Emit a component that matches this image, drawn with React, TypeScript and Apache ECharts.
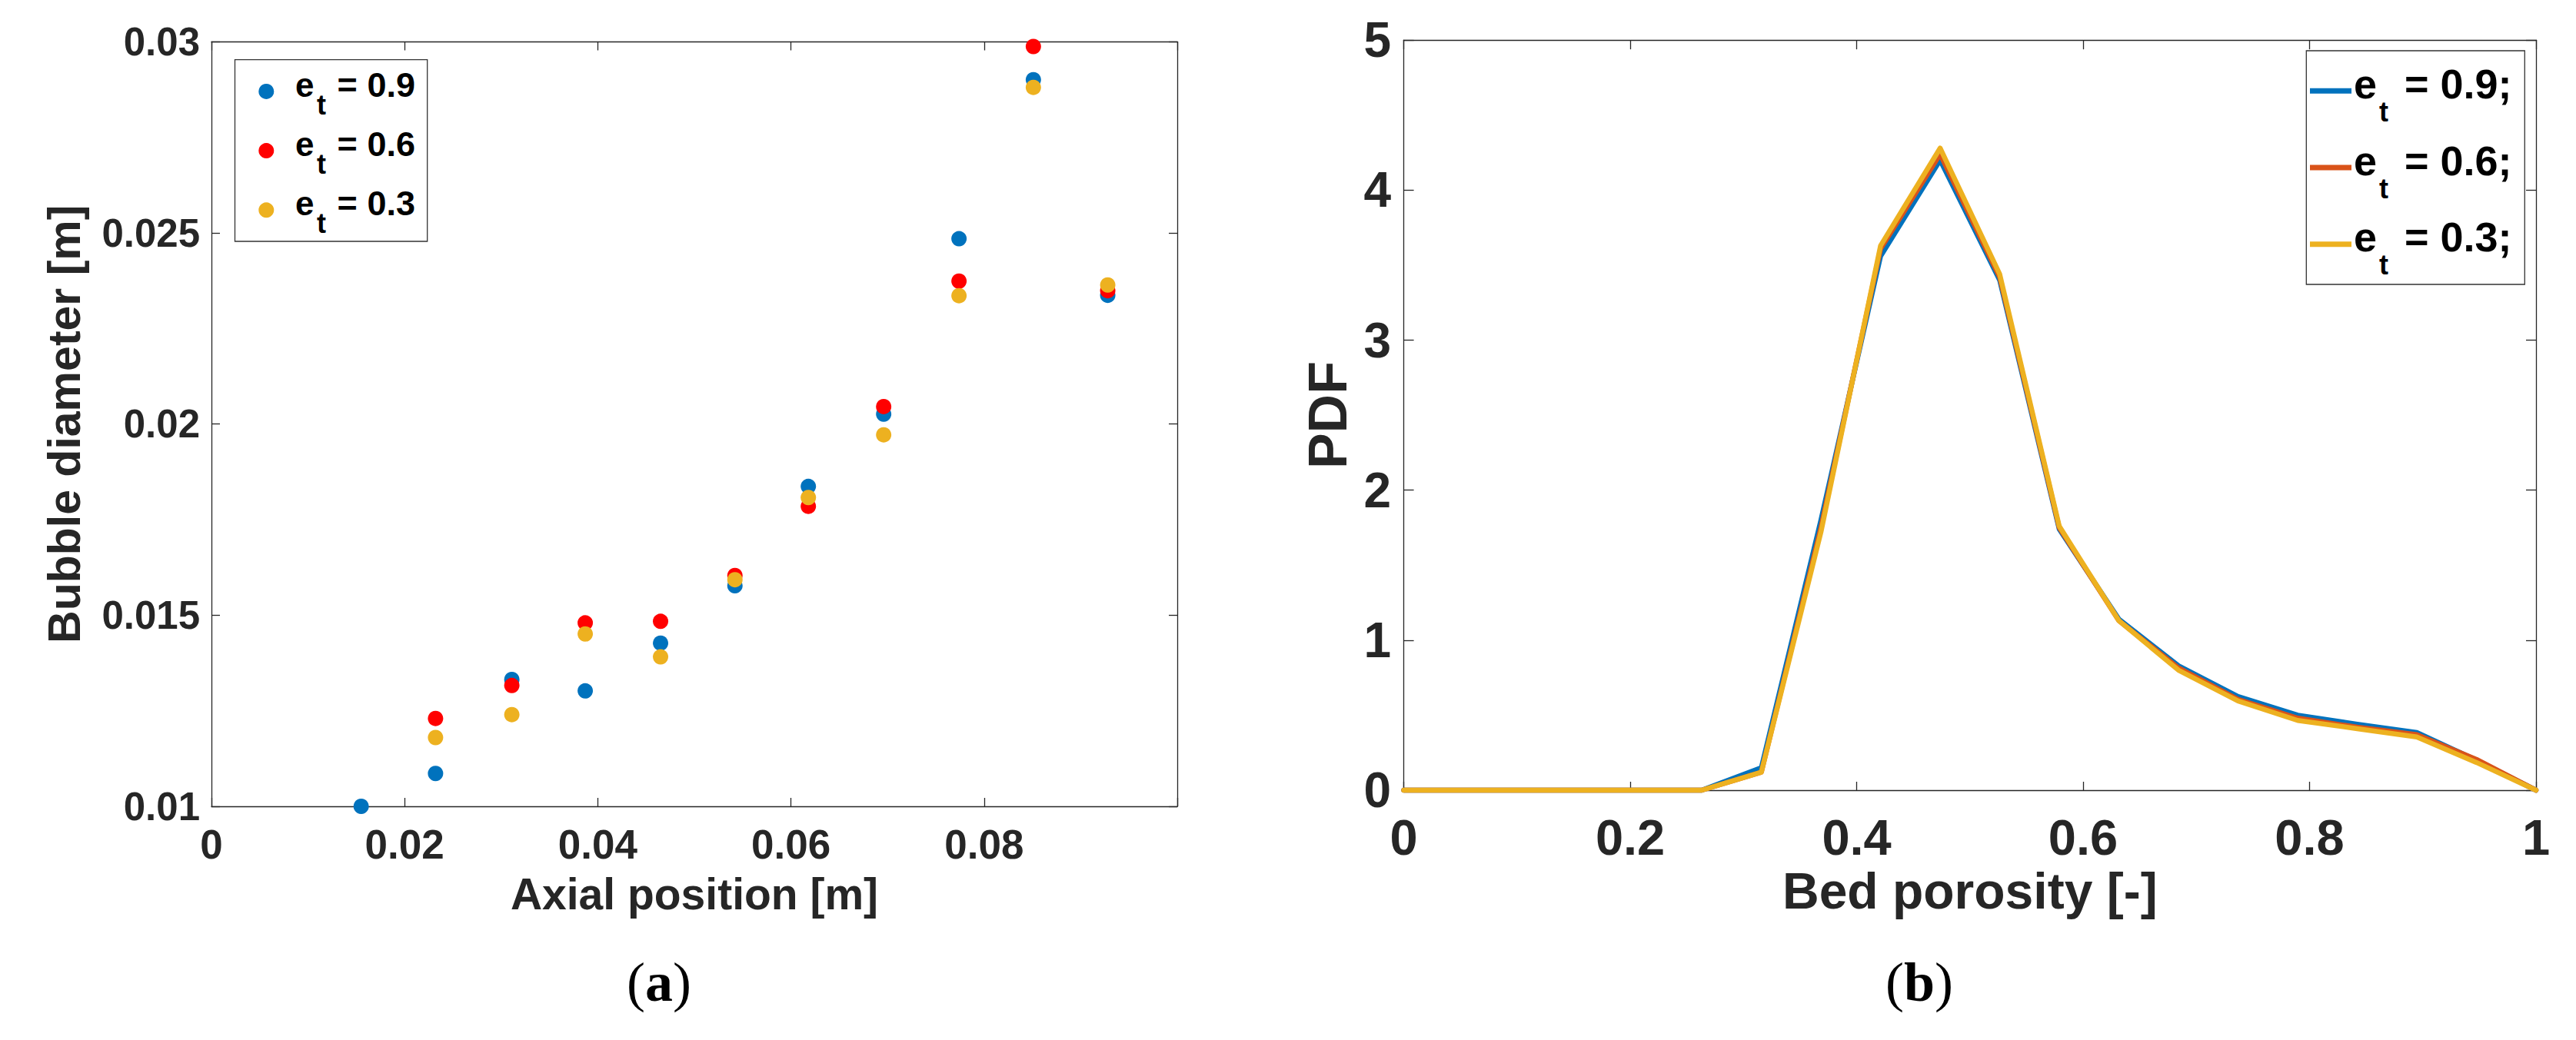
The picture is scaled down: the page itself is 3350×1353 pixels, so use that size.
import React, { useEffect, useRef } from 'react';
import * as echarts from 'echarts';

// ---------- Data (a): bubble diameter vs axial position ----------
const axialPosition = [0.0155, 0.0232, 0.0311, 0.0387, 0.0465, 0.0542, 0.0618, 0.0696, 0.0774, 0.0851, 0.0928];
const diamEt09 = [0.0100, 0.01086, 0.01332, 0.01302, 0.01427, 0.01577, 0.01837, 0.02026, 0.02485, 0.02901, 0.02337];
const diamEt06 = [null, 0.01230, 0.01316, 0.01480, 0.01484, 0.01604, 0.01785, 0.02046, 0.02374, 0.02988, 0.02349];
const diamEt03 = [null, 0.01180, 0.01240, 0.01451, 0.01391, 0.01593, 0.01808, 0.01972, 0.02336, 0.02881, 0.02364];
const scatterNames = ['e_t = 0.9', 'e_t = 0.6', 'e_t = 0.3'];
const scatterColors = ['#0072BD', '#FF0000', '#EDB120'];

// ---------- Data (b): PDF of bed porosity ----------
const bedPorosity = [0, 0.0526, 0.1053, 0.1579, 0.2105, 0.2632, 0.3158, 0.3684, 0.4211, 0.4737, 0.5263, 0.5789, 0.6316, 0.6842, 0.7368, 0.7895, 0.8421, 0.8947, 0.9474, 1];
const pdfEt09 = [0, 0, 0, 0, 0, 0, 0.15, 1.80, 3.56, 4.20, 3.40, 1.74, 1.14, 0.83, 0.625, 0.50, 0.44, 0.385, 0.20, 0];
const pdfEt06 = [0, 0, 0, 0, 0, 0, 0.12, 1.75, 3.61, 4.24, 3.42, 1.75, 1.13, 0.815, 0.605, 0.48, 0.42, 0.37, 0.205, 0];
const pdfEt03 = [0, 0, 0, 0, 0, 0, 0.12, 1.72, 3.63, 4.28, 3.44, 1.76, 1.13, 0.80, 0.595, 0.465, 0.41, 0.355, 0.185, 0];
const lineNames = ['e_t = 0.9;', 'e_t = 0.6;', 'e_t = 0.3;'];
const lineColors = ['#0072BD', '#D95319', '#EDB120'];

// legend label values
const legendValuesA = ['= 0.9', '= 0.6', '= 0.3'];
const legendValuesB = ['= 0.9;', '= 0.6;', '= 0.3;'];

const FONT = '"Liberation Sans", Arial, Helvetica, sans-serif';
const SERIF = '"Liberation Serif", "Times New Roman", serif';
const AX = '#262626';

const fmt = (v: number) => String(Number(v.toFixed(4)));

function axisCommon(extra: any) {
  return {
    type: 'value',
    axisLine: { show: true, onZero: false, lineStyle: { color: AX, width: 1.3 } },
    axisTick: { show: true, inside: true, length: 11, lineStyle: { color: AX, width: 1.3 } },
    splitLine: { show: false },
    ...extra,
  };
}

function panelLabel(letter: string, x: number) {
  return {
    type: 'text',
    x,
    y: 1278,
    style: {
      text: `{p|(}{b|${letter}}{p|)}`,
      font: `normal 72px ${SERIF}`,
      fill: '#000',
      textAlign: 'center',
      textVerticalAlign: 'middle',
      align: 'center',
      verticalAlign: 'middle',
      rich: {
        p: { fontFamily: SERIF, fontSize: 72, fontWeight: 'normal', fill: '#000', color: '#000' },
        b: { fontFamily: SERIF, fontSize: 72, fontWeight: 'bold', fill: '#000', color: '#000' },
      },
    },
  };
}

function buildOption() {
  const scatterData = [diamEt09, diamEt06, diamEt03].map((arr) =>
    arr
      .map((y, i) => (y == null ? null : [axialPosition[i], y]))
      .filter((p) => p !== null)
  );
  const lineData = [pdfEt09, pdfEt06, pdfEt03].map((arr) => arr.map((y, i) => [bedPorosity[i], y]));

  const graphic: any[] = [];
  // Legend (a)
  graphic.push({
    type: 'rect',
    shape: { x: 305.5, y: 77.6, width: 250.2, height: 236.4 },
    style: { fill: '#fff', stroke: '#333', lineWidth: 1.3 },
    z: 100,
  });
  for (let k = 0; k < 3; k++) {
    const dy = k * 77.2;
    graphic.push({ type: 'circle', shape: { cx: 346.3, cy: 118.9 + dy, r: 10 }, style: { fill: scatterColors[k] }, z: 101 });
    graphic.push({ type: 'text', x: 384, y: 110.3 + dy, style: { text: 'e', font: `bold 44px ${FONT}`, fill: '#000', textAlign: 'left', textVerticalAlign: 'middle', align: 'left', verticalAlign: 'middle' }, z: 101 });
    graphic.push({ type: 'text', x: 412, y: 136.5 + dy, style: { text: 't', font: `bold 36px ${FONT}`, fill: '#000', textAlign: 'left', textVerticalAlign: 'middle', align: 'left', verticalAlign: 'middle' }, z: 101 });
    graphic.push({ type: 'text', x: 438.6, y: 110 + dy, style: { text: legendValuesA[k], font: `bold 45px ${FONT}`, fill: '#000', textAlign: 'left', textVerticalAlign: 'middle', align: 'left', verticalAlign: 'middle' }, z: 101 });
  }
  // Legend (b)
  graphic.push({
    type: 'rect',
    shape: { x: 2999.3, y: 66, width: 284, height: 304 },
    style: { fill: '#fff', stroke: '#333', lineWidth: 1.3 },
    z: 100,
  });
  for (let k = 0; k < 3; k++) {
    const dy = k * 99.7;
    graphic.push({ type: 'line', shape: { x1: 3004, y1: 118.3 + dy, x2: 3058, y2: 118.3 + dy }, style: { stroke: lineColors[k], lineWidth: 7 }, z: 101 });
    graphic.push({ type: 'text', x: 3061, y: 108.8 + dy, style: { text: 'e', font: `bold 54px ${FONT}`, fill: '#000', textAlign: 'left', textVerticalAlign: 'middle', align: 'left', verticalAlign: 'middle' }, z: 101 });
    graphic.push({ type: 'text', x: 3094, y: 145.5 + dy, style: { text: 't', font: `bold 36px ${FONT}`, fill: '#000', textAlign: 'left', textVerticalAlign: 'middle', align: 'left', verticalAlign: 'middle' }, z: 101 });
    graphic.push({ type: 'text', x: 3127, y: 108.8 + dy, style: { text: legendValuesB[k], font: `bold 54px ${FONT}`, fill: '#000', textAlign: 'left', textVerticalAlign: 'middle', align: 'left', verticalAlign: 'middle' }, z: 101 });
  }
  // Sub-figure labels
  graphic.push(panelLabel('a', 857));
  graphic.push(panelLabel('b', 2496));

  return {
    animation: false,
    backgroundColor: '#ffffff',
    grid: [
      { left: 275, top: 54.5, width: 1256, height: 994.5, containLabel: false },
      { left: 1825.6, top: 52.2, width: 1472.4, height: 975.8, containLabel: false },
    ],
    xAxis: [
      axisCommon({
        gridIndex: 0, position: 'bottom', min: 0, max: 0.1, interval: 0.02,
        axisLabel: { show: true, margin: 22.7, fontSize: 53, fontWeight: 'bold', fontFamily: FONT, color: AX, formatter: (v: number) => (v > 0.099 ? '' : fmt(v)) },
        name: 'Axial position [m]', nameLocation: 'middle', nameGap: 85.6,
        nameTextStyle: { fontSize: 57, fontWeight: 'bold', fontFamily: FONT, color: AX },
      }),
      axisCommon({ gridIndex: 0, position: 'top', min: 0, max: 0.1, interval: 0.02, axisLabel: { show: false } }),
      axisCommon({
        gridIndex: 1, position: 'bottom', min: 0, max: 1, interval: 0.2,
        axisLabel: { show: true, margin: 28.5, fontSize: 65, fontWeight: 'bold', fontFamily: FONT, color: AX, formatter: (v: number) => fmt(v) },
        name: 'Bed porosity [-]', nameLocation: 'middle', nameGap: 95.4,
        nameTextStyle: { fontSize: 66, fontWeight: 'bold', fontFamily: FONT, color: AX },
      }),
      axisCommon({ gridIndex: 1, position: 'top', min: 0, max: 1, interval: 0.2, axisTick: { show: true, inside: true, length: 12, lineStyle: { color: AX, width: 1.3 } }, axisLabel: { show: false } }),
    ],
    yAxis: [
      axisCommon({
        gridIndex: 0, position: 'left', min: 0.01, max: 0.03, interval: 0.005,
        axisLabel: { show: true, margin: 15, fontSize: 51, fontWeight: 'bold', fontFamily: FONT, color: AX, formatter: (v: number) => fmt(v) },
        name: 'Bubble diameter [m]', nameLocation: 'middle', nameGap: 161.6,
        nameTextStyle: { fontSize: 59, fontWeight: 'bold', fontFamily: FONT, color: AX },
      }),
      axisCommon({ gridIndex: 0, position: 'right', min: 0.01, max: 0.03, interval: 0.005, axisLabel: { show: false } }),
      axisCommon({
        gridIndex: 1, position: 'left', min: 0, max: 5, interval: 1,
        axisTick: { show: true, inside: true, length: 13, lineStyle: { color: AX, width: 1.3 } },
        axisLabel: { show: true, margin: 16.6, fontSize: 64, fontWeight: 'bold', fontFamily: FONT, color: AX, formatter: (v: number) => fmt(v) },
        name: 'PDF', nameLocation: 'middle', nameGap: 63.5,
        nameTextStyle: { fontSize: 70, fontWeight: 'bold', fontFamily: FONT, color: AX },
      }),
      axisCommon({ gridIndex: 1, position: 'right', min: 0, max: 5, interval: 1, axisTick: { show: true, inside: true, length: 13, lineStyle: { color: AX, width: 1.3 } }, axisLabel: { show: false } }),
    ],
    series: [
      ...scatterData.map((d, k) => ({
        type: 'scatter',
        name: scatterNames[k],
        xAxisIndex: 0,
        yAxisIndex: 0,
        data: d,
        symbol: 'circle',
        symbolSize: 20,
        clip: false,
        itemStyle: { color: scatterColors[k], opacity: 1 },
        z: 2 + k,
      })),
      ...lineData.map((d, k) => ({
        type: 'line',
        name: lineNames[k],
        xAxisIndex: 2,
        yAxisIndex: 2,
        data: d,
        showSymbol: false,
        symbol: 'none',
        clip: false,
        lineStyle: { color: lineColors[k], width: 6.5, join: 'round', cap: 'round' },
        z: 2 + k,
      })),
    ],
    graphic,
  };
}

export default function App() {
  const ref = useRef<HTMLDivElement>(null);
  useEffect(() => {
    document.body.style.margin = '0';
    const chart = echarts.init(ref.current as HTMLDivElement, null, { renderer: 'svg' });
    chart.setOption(buildOption() as any);
    return () => {
      chart.dispose();
    };
  }, []);
  return (
    <div
      ref={ref}
      style={{ position: 'absolute', left: 0, top: 0, width: 3350, height: 1353, background: '#fff' }}
    />
  );
}
